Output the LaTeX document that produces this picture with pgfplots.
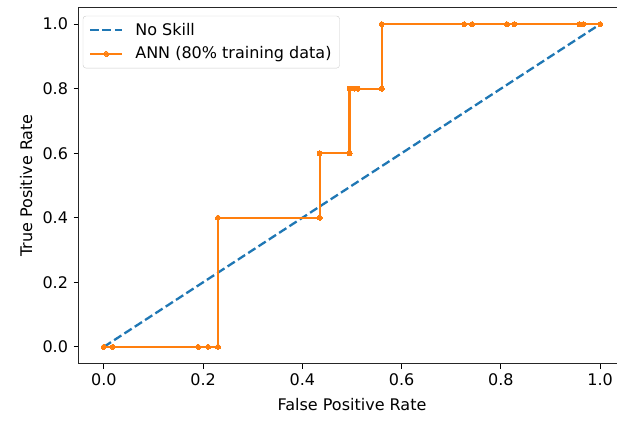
\documentclass[border=0pt]{standalone}
\usepackage{pgfplots}
\pgfplotsset{compat=1.18}
\usepackage{fontspec}
\setmainfont{DejaVu Sans}
\definecolor{mplblue}{HTML}{1F77B4}
\definecolor{mplorange}{HTML}{FF7F0E}
\begin{document}
\fontsize{16pt}{19pt}\selectfont
\begin{tikzpicture}
\begin{axis}[
  scale only axis,
  width=546pt, height=355pt,
  xmin=-0.05, xmax=1.05, ymin=-0.05, ymax=1.05,
  xtick={0,0.2,0.4,0.6,0.8,1.0},
  ytick={0,0.2,0.4,0.6,0.8,1.0},
  /pgf/number format/.cd, fixed, fixed zerofill, precision=1, assume math mode=true,
  /pgfplots/.cd,
  tick align=outside, tick pos=left,
  major tick length=5.5pt,
  every tick/.style={black, line width=1pt},
  axis line style={line width=1pt, black!85},
  xlabel={False Positive Rate},
  ylabel={True Positive Rate},
  xlabel style={at={(axis description cs:0.5,-0.118)}, anchor=center},
  ylabel style={at={(axis description cs:-0.097,0.5)}, anchor=center, rotate=0},
  legend cell align=left,
  legend style={at={(0.007,0.978)}, anchor=north west, draw=black!20, rounded corners=3pt,
    fill=white, fill opacity=0.8, text opacity=1, inner xsep=6pt, inner ysep=5pt,
    row sep=5pt, font=\fontsize{16pt}{19pt}\selectfont,
    /tikz/every odd column/.append style={column sep=10pt}},
  legend image code/.code={\draw[mark repeat=2,mark phase=2,#1] plot coordinates {(0pt,0pt) (16pt,0pt) (32pt,0pt)};},
]
\coordinate (ll) at (rel axis cs:0,0);
\addplot[mplblue, line width=2.3pt, dash pattern=on 8.6pt off 3.7pt] coordinates {(0,0) (1,1)};
\addlegendentry{No Skill}
\addplot[mplorange, line width=2.3pt, mark=*, mark size=2.5pt, mark options={solid, draw=mplorange, fill=mplorange, line width=0pt}] coordinates {
(0,0) (0.018,0) (0.19,0) (0.21,0) (0.23,0) (0.23,0.4) (0.435,0.4) (0.435,0.6) (0.495,0.6) (0.495,0.8) (0.505,0.8) (0.512,0.8) (0.56,0.8) (0.56,1.0) (0.726,1.0) (0.742,1.0) (0.812,1.0) (0.827,1.0) (0.958,1.0) (0.966,1.0) (1.0,1.0)
};
\addlegendentry{ANN (80\% training data)}
\end{axis}
\pgfresetboundingbox
\path[use as bounding box] (ll) ++(-79pt,-57pt) rectangle ++(617pt,420pt);
\end{tikzpicture}
\end{document}
